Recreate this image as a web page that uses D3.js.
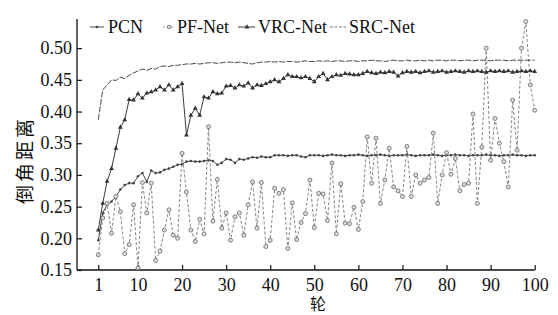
<!DOCTYPE html>
<html>
<head>
<meta charset="utf-8">
<script src="https://cdn.jsdelivr.net/npm/d3@7"></script>
<style>
  body { margin: 0; background: #fff; }
  svg text { font-family: "Liberation Serif", "DejaVu Serif", serif; fill: #111; }
  .cjk { font-family: "Noto Sans CJK SC", sans-serif; }
</style>
</head>
<body>
<svg id="chart" width="558" height="315"></svg>
<script>
const epochs = d3.range(1, 101);

const pcn = [
  0.197, 0.240, 0.253, 0.258, 0.266, 0.277, 0.284, 0.287, 0.287, 0.298,
  0.303, 0.289, 0.307, 0.303, 0.304, 0.308, 0.310, 0.313, 0.316, 0.317,
  0.321, 0.322, 0.321, 0.321, 0.322, 0.323, 0.322, 0.316, 0.319, 0.325,
  0.324, 0.319, 0.325, 0.324, 0.326, 0.328, 0.327, 0.329, 0.328, 0.328,
  0.331, 0.331, 0.331, 0.330, 0.331, 0.331, 0.329, 0.328, 0.331, 0.331,
  0.331, 0.330, 0.331, 0.332, 0.331, 0.331, 0.330, 0.331, 0.331, 0.332,
  0.331, 0.330, 0.331, 0.331, 0.332, 0.331, 0.330, 0.331, 0.331, 0.331,
  0.332, 0.331, 0.330, 0.331, 0.331, 0.331, 0.332, 0.331, 0.330, 0.331,
  0.331, 0.332, 0.331, 0.331, 0.330, 0.331, 0.331, 0.331, 0.332, 0.331,
  0.331, 0.330, 0.331, 0.331, 0.332, 0.331, 0.331, 0.330, 0.331, 0.331
];

const pfNet = [
  0.174, 0.232, 0.255, 0.208, 0.266, 0.242, 0.176, 0.190, 0.253, 0.153,
  0.288, 0.240, 0.287, 0.165, 0.180, 0.213, 0.245, 0.205, 0.200, 0.334,
  0.273, 0.213, 0.195, 0.230, 0.207, 0.376, 0.227, 0.293, 0.216, 0.240,
  0.197, 0.234, 0.240, 0.205, 0.253, 0.289, 0.216, 0.288, 0.187, 0.197,
  0.279, 0.271, 0.277, 0.184, 0.256, 0.198, 0.225, 0.239, 0.292, 0.217,
  0.271, 0.270, 0.228, 0.319, 0.207, 0.286, 0.224, 0.223, 0.249, 0.214,
  0.258, 0.360, 0.287, 0.358, 0.255, 0.292, 0.342, 0.281, 0.275, 0.266,
  0.345, 0.266, 0.300, 0.287, 0.292, 0.296, 0.366, 0.255, 0.300, 0.335,
  0.301, 0.326, 0.275, 0.285, 0.287, 0.396, 0.255, 0.344, 0.500, 0.323,
  0.389, 0.350, 0.321, 0.281, 0.418, 0.339, 0.500, 0.542, 0.442, 0.402
];

const vrcNet = [
  0.213, 0.255, 0.290, 0.310, 0.342, 0.375, 0.387, 0.419, 0.418, 0.428,
  0.421, 0.429, 0.431, 0.434, 0.439, 0.434, 0.442, 0.434, 0.439, 0.444,
  0.363, 0.394, 0.405, 0.394, 0.423, 0.421, 0.431, 0.428, 0.429, 0.440,
  0.441, 0.437, 0.442, 0.440, 0.445, 0.437, 0.442, 0.441, 0.444, 0.447,
  0.450, 0.447, 0.452, 0.458, 0.455, 0.455, 0.453, 0.455, 0.452, 0.447,
  0.455, 0.460, 0.450, 0.455, 0.458, 0.457, 0.460, 0.459, 0.458, 0.458,
  0.460, 0.463, 0.461, 0.460, 0.462, 0.461, 0.463, 0.462, 0.456, 0.461,
  0.463, 0.462, 0.463, 0.461, 0.463, 0.464, 0.462, 0.463, 0.464, 0.462,
  0.463, 0.464, 0.463, 0.462, 0.464, 0.463, 0.464, 0.463, 0.462, 0.464,
  0.463, 0.464, 0.463, 0.464, 0.462, 0.463, 0.464, 0.463, 0.464, 0.463
];

const srcNet = [
  0.387, 0.434, 0.442, 0.450, 0.449, 0.454, 0.452, 0.457, 0.461, 0.464,
  0.467, 0.465, 0.468, 0.467, 0.471, 0.472, 0.471, 0.473, 0.473, 0.474,
  0.475, 0.475, 0.476, 0.475, 0.476, 0.477, 0.477, 0.476, 0.477, 0.478,
  0.478, 0.477, 0.478, 0.477, 0.476, 0.475, 0.477, 0.478, 0.478, 0.479,
  0.478, 0.479, 0.478, 0.479, 0.479, 0.478, 0.479, 0.480, 0.479, 0.479,
  0.480, 0.479, 0.480, 0.479, 0.480, 0.480, 0.479, 0.480, 0.480, 0.479,
  0.480, 0.480, 0.481, 0.480, 0.480, 0.479, 0.480, 0.481, 0.480, 0.480,
  0.481, 0.480, 0.480, 0.481, 0.480, 0.481, 0.480, 0.481, 0.481, 0.480,
  0.481, 0.481, 0.480, 0.481, 0.481, 0.480, 0.481, 0.481, 0.481, 0.480,
  0.481, 0.481, 0.481, 0.480, 0.481, 0.481, 0.481, 0.481, 0.481, 0.481
];

const xTicks = [1, 10, 20, 30, 40, 50, 60, 70, 80, 90, 100];
const yTicks = [0.15, 0.20, 0.25, 0.30, 0.35, 0.40, 0.45, 0.50];
const legendNames = ["PCN", "PF-Net", "VRC-Net", "SRC-Net"];

const svg = d3.select("#chart");
const plotLeft = 77, plotBottom = 270, plotTop = 19;

const x = d3.scaleLinear().domain([1, 100]).range([98.3, 534.7]);
const y = d3.scaleLinear().domain([0.15, 0.546]).range([plotBottom, plotTop]);

// axes
const gx = svg.append("g")
  .attr("transform", "translate(0," + plotBottom + ")")
  .call(d3.axisBottom(x).tickValues(xTicks).tickSize(-5).tickSizeOuter(0));
gx.select(".domain").remove();
gx.selectAll(".tick line").attr("stroke", "#111").attr("stroke-width", 1.2);
gx.selectAll("text").attr("y", 8).attr("font-size", 18).style("font-family", "Liberation Serif");
gx.append("line").attr("x1", plotLeft).attr("x2", x(100)).attr("stroke", "#111").attr("stroke-width", 1.3);

const gy = svg.append("g")
  .attr("transform", "translate(" + plotLeft + ",0)")
  .call(d3.axisLeft(y).tickValues(yTicks).tickFormat(d3.format(".2f")).tickSize(-5).tickSizeOuter(0));
gy.select(".domain").remove();
gy.selectAll(".tick line").attr("stroke", "#111").attr("stroke-width", 1.2);
gy.selectAll("text").attr("x", -5).attr("font-size", 18).style("font-family", "Liberation Serif");
gy.append("line").attr("y1", plotTop).attr("y2", plotBottom).attr("stroke", "#111").attr("stroke-width", 1.3);

// titles
svg.append("text").attr("class", "cjk")
  .attr("transform", "translate(32,160) rotate(-90)")
  .attr("text-anchor", "middle").attr("font-size", 19).attr("letter-spacing", 3)
  .style("font-family", "Noto Sans CJK SC")
  .text("倒角距离");
svg.append("text").attr("class", "cjk")
  .attr("x", 318).attr("y", 310).attr("text-anchor", "middle").attr("font-size", 16)
  .style("font-family", "Noto Sans CJK SC")
  .text("轮");

const line = d3.line().x((d, i) => x(epochs[i])).y(d => y(d));

// PCN
svg.append("path").datum(pcn).attr("d", line)
  .attr("fill", "none").attr("stroke", "#333").attr("stroke-width", 0.9);
svg.append("g").selectAll("circle").data(pcn).join("circle")
  .attr("cx", (d, i) => x(epochs[i])).attr("cy", d => y(d)).attr("r", 1.3)
  .attr("fill", "#444");

// PF-Net
svg.append("path").datum(pfNet).attr("d", line)
  .attr("fill", "none").attr("stroke", "#777").attr("stroke-width", 0.9)
  .attr("stroke-dasharray", "3,2");
svg.append("g").selectAll("circle").data(pfNet).join("circle")
  .attr("cx", (d, i) => x(epochs[i])).attr("cy", d => y(d)).attr("r", 2)
  .attr("fill", "#ddd").attr("stroke", "#666").attr("stroke-width", 0.8);

// VRC-Net
svg.append("path").datum(vrcNet).attr("d", line)
  .attr("fill", "none").attr("stroke", "#222").attr("stroke-width", 0.9);
const tri = d3.symbol().type(d3.symbolTriangle).size(10);
svg.append("g").selectAll("path").data(vrcNet).join("path")
  .attr("transform", (d, i) => "translate(" + x(epochs[i]) + "," + y(d) + ")")
  .attr("d", tri).attr("fill", "#333");

// SRC-Net
svg.append("path").datum(srcNet).attr("d", line)
  .attr("fill", "none").attr("stroke", "#333").attr("stroke-width", 0.9)
  .attr("stroke-dasharray", "6,1.5");

// legend
const lg = svg.append("g");
const ly = 27;
const legendX = [90, 163, 238, 330];
const legendTextX = [108, 177, 258, 349];
// PCN sample
lg.append("line").attr("x1", legendX[0]).attr("x2", legendX[0] + 14).attr("y1", ly).attr("y2", ly)
  .attr("stroke", "#333").attr("stroke-width", 0.9);
lg.append("circle").attr("cx", legendX[0] + 7).attr("cy", ly).attr("r", 1.3).attr("fill", "#444");
// PF-Net sample
lg.append("line").attr("x1", legendX[1]).attr("x2", legendX[1] + 12).attr("y1", ly).attr("y2", ly)
  .attr("stroke", "#888").attr("stroke-width", 0.8).attr("stroke-dasharray", "2,2");
lg.append("circle").attr("cx", legendX[1] + 6).attr("cy", ly).attr("r", 1.8)
  .attr("fill", "#ddd").attr("stroke", "#666").attr("stroke-width", 0.8);
// VRC-Net sample
lg.append("line").attr("x1", legendX[2]).attr("x2", legendX[2] + 17).attr("y1", ly).attr("y2", ly)
  .attr("stroke", "#222").attr("stroke-width", 0.9);
lg.append("path").attr("transform", "translate(" + (legendX[2] + 9) + "," + ly + ")")
  .attr("d", tri).attr("fill", "#333");
// SRC-Net sample
lg.append("line").attr("x1", legendX[3]).attr("x2", legendX[3] + 16).attr("y1", ly).attr("y2", ly)
  .attr("stroke", "#555").attr("stroke-width", 0.8).attr("stroke-dasharray", "3,1.5");

lg.selectAll("text.lbl").data(legendNames).join("text").attr("class", "lbl")
  .attr("x", (d, i) => legendTextX[i]).attr("y", ly + 6)
  .attr("font-size", 18).text(d => d);
</script>
</body>
</html>
